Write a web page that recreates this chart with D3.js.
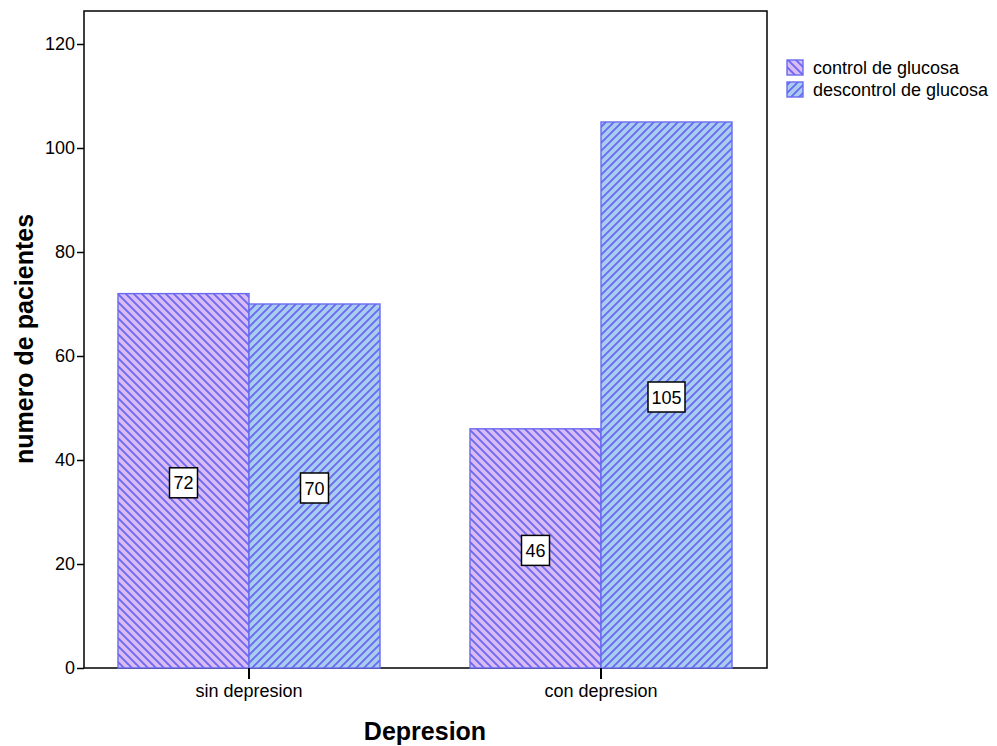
<!DOCTYPE html>
<html><head><meta charset="utf-8">
<script src="https://cdn.jsdelivr.net/npm/d3@7"></script>
<style>body{margin:0;background:#fff}svg{font-family:"Liberation Sans",Arial,sans-serif}</style>
</head><body><svg id="c" width="997" height="746"></svg>
<script>
const categories = ["sin depresion", "con depresion"];
const seriesNames = ["control de glucosa", "descontrol de glucosa"];
const controlValues = [72, 46];
const descontrolValues = [70, 105];
const yTicks = [0, 20, 40, 60, 80, 100, 120];

const svg = d3.select("#c");
const frame = {l: 84, r: 767, t: 11, b: 668};
const y = d3.scaleLinear().domain([0, 120]).range([668, 44]);
const x0 = d3.scaleBand().domain(categories).range([73, 777]);
const x1 = d3.scaleBand().domain(seriesNames).range([-131, 131]);

const fills = ["#dbbbf6", "#a9cdf2"];
const lineCol = "#6a6af0";
const T = 8;
const defs = svg.append("defs");
[["p0", -1], ["p1", 1]].forEach(([id, dir], i) => {
  const p = defs.append("pattern").attr("id", id).attr("patternUnits", "userSpaceOnUse")
    .attr("width", T).attr("height", T);
  p.append("rect").attr("width", T).attr("height", T).attr("fill", fills[i]);
  const d = dir < 0
    ? `M-2,-2 L${T+2},${T+2} M-${T/2+2},${T/2-2} L${T/2+2},${T+T/2+2}`.replace(/.*/, `M-2,-2 L${T+2},${T+2} M-${T},0 L0,${T} M${T},${-0} L${2*T},${T} M0,-${T} L${T},0 M-2,${T-2} L2,${T+2} M${T-2},-2 L${T+2},2`)
    : `M-2,${T+2} L${T+2},-2 M-2,2 L2,-2 M${T-2},${T+2} L${T+2},${T-2}`;
  p.append("path").attr("d", d).attr("stroke", lineCol).attr("stroke-width", 1.9);
});

svg.append("rect").attr("x", frame.l).attr("y", frame.t).attr("width", frame.r - frame.l)
  .attr("height", frame.b - frame.t).attr("fill", "none").attr("stroke", "#000").attr("stroke-width", 1.5);

const data = categories.map((c, i) => ({cat: c, vals: [controlValues[i], descontrolValues[i]]}));
const g = svg.append("g");
data.forEach(d => {
  d.vals.forEach((v, j) => {
    const xs = x0(d.cat) + x0.bandwidth() / 2 + x1(seriesNames[j]);
    g.append("rect").attr("x", xs).attr("y", y(v)).attr("width", x1.bandwidth())
      .attr("height", y(0) - y(v)).attr("fill", `url(#p${j})`).attr("stroke", lineCol).attr("stroke-width", 1.4);
  });
});
data.forEach(d => {
  d.vals.forEach((v, j) => {
    const cx = x0(d.cat) + x0.bandwidth() / 2 + x1(seriesNames[j]) + x1.bandwidth() / 2;
    const cy = (y(v) + y(0)) / 2 + 2;
    const txt = String(v);
    const w = txt.length > 2 ? 37 : 28;
    g.append("rect").attr("x", cx - w / 2).attr("y", cy - 15).attr("width", w).attr("height", 30)
      .attr("fill", "#fff").attr("stroke", "#000").attr("stroke-width", 1.5);
    g.append("text").attr("x", cx).attr("y", cy + 6.5).attr("text-anchor", "middle")
      .attr("font-size", 18).text(txt);
  });
});

// y axis
const ya = svg.append("g").attr("transform", `translate(${frame.l},0)`)
  .call(d3.axisLeft(y).tickValues(yTicks).tickSize(7).tickPadding(2));
ya.select(".domain").remove();
ya.selectAll("line").attr("stroke", "#000").attr("stroke-width", 1.5);
ya.selectAll("text").attr("font-size", 18).attr("font-family", "Liberation Sans, Arial, sans-serif").attr("fill", "#000");

// x axis
const xa = svg.append("g").attr("transform", `translate(0,${frame.b})`)
  .call(d3.axisBottom(x0).tickSize(11).tickPadding(5));
xa.select(".domain").remove();
xa.selectAll("line").attr("stroke", "#000").attr("stroke-width", 2);
xa.selectAll("text").attr("font-size", 18).attr("font-family", "Liberation Sans, Arial, sans-serif").attr("fill", "#000");

svg.append("text").attr("transform", "translate(33,339) rotate(-90)").attr("text-anchor", "middle")
  .attr("font-size", 25).attr("font-weight", "bold").text("numero de pacientes");
svg.append("text").attr("x", 425).attr("y", 740).attr("text-anchor", "middle")
  .attr("font-size", 25).attr("font-weight", "bold").text("Depresion");

// legend
seriesNames.forEach((s, i) => {
  const ly = 60 + i * 22;
  svg.append("rect").attr("x", 787).attr("y", ly).attr("width", 16).attr("height", 15)
    .attr("fill", `url(#p${i})`).attr("stroke", lineCol).attr("stroke-width", 1.4);
  svg.append("text").attr("x", 813).attr("y", ly + 14).attr("font-size", 18).text(s);
});
</script></body></html>
